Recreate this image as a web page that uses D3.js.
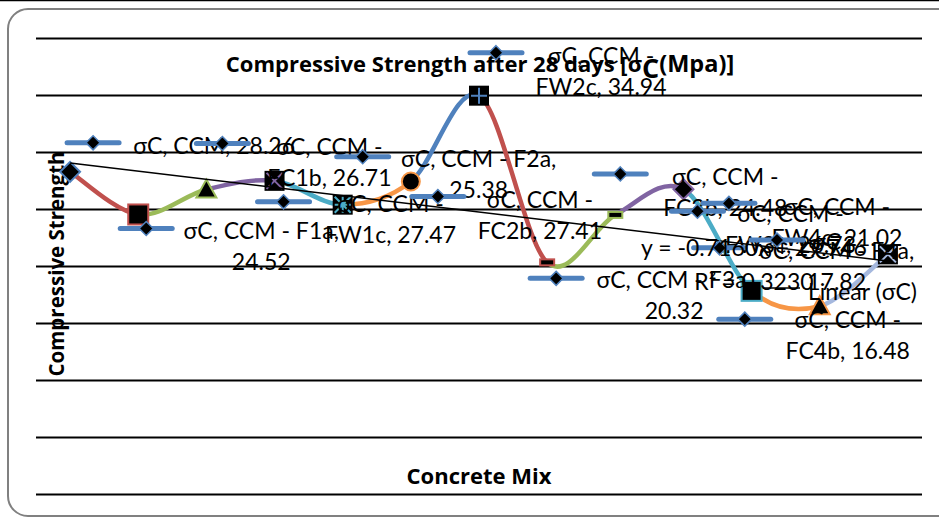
<!DOCTYPE html>
<html><head><meta charset="utf-8">
<script src="https://cdn.jsdelivr.net/npm/d3@7"></script>
<style>body{margin:0;background:#fff}svg{display:block}</style>
</head><body>
<svg id="c" width="939" height="518"></svg>
<script>
// ---- data ----
const categories = ["CCM","CCM - F1a","CCM - FC1b","CCM - FW1c","CCM - F2a","CCM - FC2b","CCM - FW2c","CCM - F3a","CCM - FC3b","CCM - FW3c","CCM - F4a","CCM - FC4b","CCM - FW4c"];
const values = [28.26,24.52,26.71,27.47,25.38,27.41,34.94,20.32,24.48,26.73,17.82,16.48,21.02];
const yTicks = [0,5,10,15,20,25,30,35,40];
const seriesName = "σC";

// ---- styling / layout ----
const pointColors = ["#4F81BD","#C0504D","#9BBB59","#8064A2","#4BACC6","#F79646","#4F81BD","#C0504D","#9BBB59","#8064A2","#4BACC6","#F79646","#A5B8DE"];
const markerTypes = ["diamond","square","triangle","x","star","circle","plus","dash","dash","diamond","square","triangle","x"];
// [key dx, key dy, text-centre dx, first-line dy] relative to each point
const labelOffsets = [[23,-29,144,-26],[8,14,123,16],[16,-46,123,-43],[9,21,116,23],[20,-48,136,-46],[27,15,129,18],[17,-43,122,-40],[9,16,127,18],[5,-41,110,-38],[14,22,107,25],[-32,-43,85,-40],[-75,13,28,14],[-159,-51,-51,-47]];
const FONT = "Lato, 'Open Sans', sans-serif";
const BFONT = "'Open Sans', Lato, sans-serif";
const LBL = 23, LH = 31;

const svg = d3.select("#c");
svg.append("line").attr("x1",0).attr("x2",939).attr("y1",0.5).attr("y2",0.5).attr("stroke","#000").attr("stroke-width",1.5);
svg.append("rect").attr("x",8).attr("y",9).attr("width",960).attr("height",507).attr("rx",20)
  .attr("fill","#fff").attr("stroke","#808080").attr("stroke-width",2);

const x = d3.scaleBand().domain(categories).range([36,922]);
const y = d3.scaleLinear().domain([0,40]).range([494,38]);
const px = c => x(c) + x.bandwidth()/2;

// gridlines
const grid = svg.append("g").attr("transform","translate(36,0)")
  .call(d3.axisLeft(y).tickValues(yTicks).tickSize(-886).tickFormat(""));
grid.select(".domain").remove();
grid.selectAll("line").attr("stroke","#000").attr("stroke-width",2);

// title
const title = svg.append("text").attr("x",480).attr("y",72).attr("text-anchor","middle")
  .attr("font-family",BFONT).attr("font-weight","bold").attr("font-size",22);
title.append("tspan").text("Compressive Strength after 28 days [σ");
title.append("tspan").attr("font-size",27).attr("dy",6).text("C");
title.append("tspan").attr("font-size",23.5).attr("dy",-6).text("(Mpa)]");

svg.append("text").attr("transform","translate(64,264) rotate(-90)").attr("text-anchor","middle")
  .attr("font-family",BFONT).attr("font-weight","bold").attr("font-size",20.5).text("Compressive Strength");
svg.append("text").attr("x",479).attr("y",484).attr("text-anchor","middle")
  .attr("font-family",BFONT).attr("font-weight","bold").attr("font-size",22).text("Concrete Mix");

// points
const pts = categories.map((c,i)=>[px(c), y(values[i])]);

// smoothed segments, each coloured by its end point
const segs = svg.append("g");
for (let i=1;i<pts.length;i++){
  const p0 = pts[i-2]||pts[i-1], p1 = pts[i-1], p2 = pts[i], p3 = pts[i+1]||pts[i];
  const p = d3.path();
  p.moveTo(p1[0],p1[1]);
  p.bezierCurveTo(p1[0]+(p2[0]-p0[0])/6, p1[1]+(p2[1]-p0[1])/6, p2[0]-(p3[0]-p1[0])/6, p2[1]-(p3[1]-p1[1])/6, p2[0], p2[1]);
  segs.append("path").attr("d",p.toString()).attr("fill","none").attr("stroke",pointColors[i])
    .attr("stroke-width",4.5).attr("stroke-linecap","round");
}

// markers
function drawMarker(g, type, col){
  const s = 10;
  if (type==="diamond") g.append("path").attr("d",`M0,${-s}L${s},0L0,${s}L${-s},0Z`).attr("fill","#000").attr("stroke",col).attr("stroke-width",2);
  else if (type==="square") g.append("rect").attr("x",-s).attr("y",-s).attr("width",2*s).attr("height",2*s).attr("fill","#000").attr("stroke",col).attr("stroke-width",2);
  else if (type==="triangle") g.append("path").attr("d",`M0,${-s}L${s},${s*0.8}L${-s},${s*0.8}Z`).attr("fill","#000").attr("stroke",col).attr("stroke-width",2);
  else if (type==="circle") g.append("circle").attr("r",s*0.9).attr("fill","#000").attr("stroke",col).attr("stroke-width",2);
  else if (type==="dash") g.append("rect").attr("x",-7).attr("y",-3).attr("width",14).attr("height",6).attr("fill","#000").attr("stroke",col).attr("stroke-width",2);
  else {
    g.append("rect").attr("x",-s).attr("y",-s).attr("width",2*s).attr("height",2*s).attr("fill","#000");
    const k = s-2; let d = "";
    if (type==="x"||type==="star") d += `M${-k},${-k}L${k},${k}M${-k},${k}L${k},${-k}`;
    if (type==="plus"||type==="star") d += `M0,${-k}L0,${k}M${-k},0L${k},0`;
    g.append("path").attr("d",d).attr("stroke",col).attr("stroke-width",2);
  }
}
pts.forEach((p,i)=>{
  drawMarker(svg.append("g").attr("transform",`translate(${p[0]},${p[1]})`), markerTypes[i], pointColors[i]);
});

// linear trendline (least squares over point index)
const n = values.length, xs = values.map((v,i)=>i+1);
const mx = d3.mean(xs), my = d3.mean(values);
const sxy = d3.sum(xs,(xi,i)=>(xi-mx)*(values[i]-my)), sxx = d3.sum(xs,xi=>(xi-mx)**2);
const slope = sxy/sxx, icpt = my - slope*mx;
const sst = d3.sum(values,v=>(v-my)**2), r2 = slope*slope*sxx/sst;
svg.append("line").attr("x1",pts[0][0]).attr("y1",y(icpt+slope*1)).attr("x2",pts[n-1][0]).attr("y2",y(icpt+slope*n))
  .attr("stroke","#000").attr("stroke-width",1.5);

// key glyph
function drawKey(g){
  g.append("line").attr("x1",-26).attr("x2",26).attr("stroke","#4F81BD").attr("stroke-width",5).attr("stroke-linecap","round");
  g.append("path").attr("d","M0,-7L7,0L0,7L-7,0Z").attr("fill","#000").attr("stroke","#4F81BD").attr("stroke-width",1.5);
}

// data labels
const fmt = d3.format(".2f");
categories.forEach((c,i)=>{
  const [kdx,kdy,tdx,tdy] = labelOffsets[i];
  const p = pts[i];
  drawKey(svg.append("g").attr("transform",`translate(${p[0]+kdx},${p[1]+kdy})`));
  let lines;
  const parts = c.split(" - ");
  if (parts.length===1) lines = [`${seriesName}, ${c}, ${fmt(values[i])}`];
  else if (parts[1].length<=3) lines = [`${seriesName}, ${c},`, fmt(values[i])];
  else lines = [`${seriesName}, ${parts[0]} -`, `${parts[1]}, ${fmt(values[i])}`];
  lines.forEach((t,j)=>{
    svg.append("text").attr("x",p[0]+tdx).attr("y",p[1]+tdy+j*LH).attr("dy","0.35em")
      .attr("text-anchor","middle").attr("font-family",FONT).attr("font-size",LBL).text(t);
  });
});

// trendline label
const last = pts[n-1];
[`y = ${slope.toFixed(4)}x + ${icpt.toFixed(3)}`, `R² = ${r2.toFixed(4)}`].forEach((t,j)=>{
  svg.append("text").attr("x",last[0]-134).attr("y",last[1]-6+j*34).attr("dy","0.35em")
    .attr("text-anchor","middle").attr("font-family",FONT).attr("font-size",LBL).text(t);
});

// legend
const lg = svg.append("g");
drawKey(lg.append("g").attr("transform","translate(777,240)"));
lg.append("text").attr("x",812).attr("y",242).attr("dy","0.35em").attr("font-family",FONT).attr("font-size",LBL).text(seriesName);
lg.append("line").attr("x1",763).attr("x2",800).attr("y1",288).attr("y2",288).attr("stroke","#000").attr("stroke-width",1.5);
lg.append("text").attr("x",808).attr("y",292).attr("dy","0.35em").attr("font-family",FONT).attr("font-size",LBL).text("Linear (σC)");
</script>
</body></html>
